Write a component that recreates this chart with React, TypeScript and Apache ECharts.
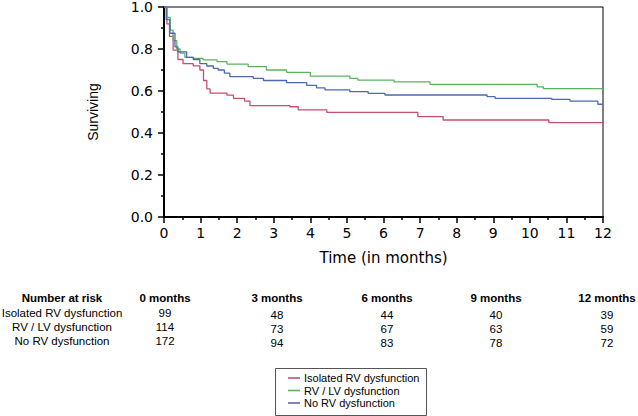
import React, { useEffect, useRef } from "react";
import * as echarts from "echarts";

const seriesNames = ["Isolated RV dysfunction", "RV / LV dysfunction", "No RV dysfunction"];
const seriesColors = ["#c4506a", "#5db35d", "#4a6ab2"];

const isolatedT = [0, 0.08, 0.15, 0.25, 0.38, 0.52, 0.8, 0.98, 1.08, 1.17, 1.26, 1.72, 1.9, 2.2, 2.35, 3.44, 3.67, 4.45, 6.94, 7.63, 10.52, 12];
const isolatedS = [1, 0.92, 0.86, 0.795, 0.75, 0.73, 0.72, 0.7, 0.65, 0.61, 0.59, 0.58, 0.565, 0.552, 0.53, 0.525, 0.51, 0.498, 0.478, 0.462, 0.449, 0.449];

const rvlvT = [0, 0.08, 0.17, 0.25, 0.35, 0.44, 0.57, 0.8, 1.07, 1.45, 1.72, 2.3, 2.8, 3.35, 4.0, 5.08, 5.3, 6.29, 7.27, 10.2, 10.37, 12];
const rvlvS = [1, 0.95, 0.89, 0.84, 0.8, 0.78, 0.76, 0.755, 0.748, 0.74, 0.728, 0.716, 0.7, 0.689, 0.671, 0.66, 0.652, 0.643, 0.632, 0.62, 0.611, 0.611];

const noRvT = [0, 0.06, 0.16, 0.3, 0.38, 0.62, 0.8, 0.98, 1.17, 1.35, 1.48, 1.65, 1.8, 2.44, 2.72, 3.35, 3.9, 4.17, 4.4, 5.08, 5.58, 6.04, 8.83, 9.05, 10.6, 11.1, 11.86, 12];
const noRvS = [1, 0.94, 0.875, 0.81, 0.786, 0.76, 0.75, 0.73, 0.719, 0.708, 0.7, 0.685, 0.668, 0.66, 0.65, 0.64, 0.627, 0.615, 0.605, 0.597, 0.589, 0.581, 0.573, 0.565, 0.56, 0.552, 0.537, 0.537];

const riskHeader = "Number at risk";
const riskTimes = ["0 months", "3 months", "6 months", "9 months", "12 months"];
const riskIsolated = [99, 48, 44, 40, 39];
const riskRvlv = [114, 73, 67, 63, 59];
const riskNoRv = [172, 94, 83, 78, 72];

const ARIAL = "Liberation Sans, Arial, sans-serif";
const WIDE = "DejaVu Sans, sans-serif";

export default function App() {
  const ref = useRef<HTMLDivElement>(null);
  useEffect(() => {
    if (!ref.current) return;
    const chart = echarts.init(ref.current, undefined, { renderer: "svg" });
    const curves = [
      [isolatedT, isolatedS],
      [rvlvT, rvlvS],
      [noRvT, noRvS],
    ];
    const series = curves.map(([t, s], i) => ({
      name: seriesNames[i],
      type: "line",
      step: "end",
      symbol: "none",
      data: t.map((v, j) => [v, s[j]]),
      lineStyle: { color: seriesColors[i], width: 1.3 },
      itemStyle: { color: seriesColors[i] },
    }));

    const colX = [165, 277, 387, 496, 607];
    const rowLabelX = 62;
    const rows = [riskIsolated, riskRvlv, riskNoRv];
    const graphics: any[] = [];
    const txt = (x: number, y: number, text: string, font: string, align = "center") => ({
      type: "text", x, y,
      style: { text, font, fill: "#000", align, verticalAlign: "middle" },
    });
    graphics.push(txt(62, 298, riskHeader, `bold 11.5px ${ARIAL}`));
    riskTimes.forEach((lab, c) => graphics.push(txt(colX[c], 298, lab, `bold 11.5px ${ARIAL}`)));
    rows.forEach((vals, r) => {
      graphics.push(txt(rowLabelX, 313 + r * 14, seriesNames[r], `11.5px ${ARIAL}`));
      vals.forEach((v, c) => {
        graphics.push(txt(colX[c], (c === 0 ? 313 : 315) + r * 14, String(v), `11.5px ${ARIAL}`));
      });
    });
    // legend box
    graphics.push({
      type: "rect", shape: { x: 275.5, y: 368.5, width: 151, height: 47 },
      style: { fill: "#fff", stroke: "#555", lineWidth: 1 },
    });
    seriesNames.forEach((n, i) => {
      const y = 378 + i * 12.5;
      graphics.push({
        type: "line", shape: { x1: 288, y1: y, x2: 300, y2: y },
        style: { stroke: seriesColors[i], lineWidth: 1.6 },
      });
      graphics.push(txt(304, y, n, `11px ${ARIAL}`, "left"));
    });

    chart.setOption({
      animation: false,
      backgroundColor: "#fff",
      textStyle: { fontFamily: ARIAL },
      grid: { left: 164, top: 7, right: 35, bottom: 199, show: true, borderColor: "#000", borderWidth: 1, containLabel: false },
      xAxis: {
        type: "value", min: 0, max: 12, interval: 1,
        name: "Time (in months)", nameLocation: "middle", nameGap: 33,
        nameTextStyle: { fontSize: 15, color: "#000", fontFamily: WIDE },
        axisLine: { lineStyle: { color: "#000", width: 2 } },
        axisTick: { show: true, length: 6, lineStyle: { color: "#000", width: 1.5 } },
        minorTick: { show: true, splitNumber: 2, length: 3, lineStyle: { color: "#000", width: 1.5 } },
        axisLabel: { fontSize: 14, color: "#000", margin: 9, fontFamily: WIDE },
        splitLine: { show: false },
      },
      yAxis: {
        type: "value", min: 0, max: 1, interval: 0.2,
        name: "Surviving", nameLocation: "middle", nameGap: 64,
        nameTextStyle: { fontSize: 14, color: "#000", fontFamily: ARIAL },
        axisLine: { show: true, lineStyle: { color: "#000", width: 2 } },
        axisTick: { show: true, length: 6, lineStyle: { color: "#000", width: 1.5 } },
        minorTick: { show: true, splitNumber: 2, length: 3, lineStyle: { color: "#000", width: 1.5 } },
        axisLabel: { fontSize: 14, color: "#000", margin: 11, fontFamily: WIDE, formatter: (v: number) => v.toFixed(1) },
        splitLine: { show: false },
      },
      series,
      graphic: graphics,
    });
    return () => chart.dispose();
  }, []);
  return <div ref={ref} style={{ position: "fixed", left: 0, top: 0, width: 638, height: 416 }} />;
}
